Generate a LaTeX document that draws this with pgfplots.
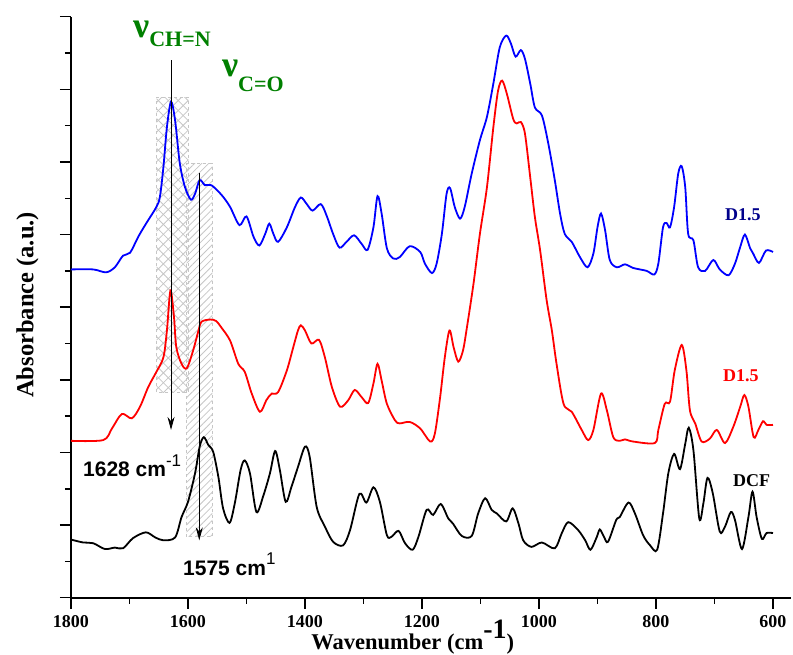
\documentclass[border=0pt]{standalone}
\usepackage{fontspec}
\setmainfont{Liberation Serif}
\newfontfamily\sansfont{Liberation Sans}
\usepackage{pgfplots}
\pgfplotsset{compat=1.18}
\usetikzlibrary{patterns,patterns.meta,arrows.meta}
\definecolor{navyblue}{RGB}{0,0,140}
\definecolor{labgreen}{RGB}{0,128,0}
\begin{document}
\begin{tikzpicture}
\useasboundingbox (-71pt,-57.3pt) rectangle (722pt,597.7pt);
\begin{axis}[
  at={(0,0)}, anchor=south west,
  scale only axis, width=719.55pt, height=581pt,
  x dir=reverse, xmin=570, xmax=1800, ymin=0, ymax=8,
  axis x line=bottom, axis y line=left,
  axis line style={-, line width=1.8pt},
  tick align=outside,
  major tick length=11pt, minor tick length=6pt,
  every tick/.style={black, line width=1.5pt},
  xtick={600,800,...,1800}, minor xtick={700,900,...,1700},
  ytick={0,1,...,8}, minor ytick={0.5,1.5,...,7.5},
  yticklabels={},
  /pgf/number format/assume math mode=true,
  /pgf/number format/set thousands separator={},
  xticklabel style={font=\fontsize{18}{18}\selectfont\bfseries, yshift=-3pt},
  xlabel={Wavenumber (cm\raisebox{11pt}{\fontsize{28}{28}\selectfont -1})},
  xlabel style={font=\fontsize{22.5}{22.5}\selectfont\bfseries, at={(axis description cs:0.475,0)}, anchor=base, yshift=-51.5pt},
  ylabel={Absorbance (a.u.)},
  ylabel style={font=\fontsize{24.5}{24.5}\selectfont\bfseries, at={([xshift=-37.7pt]axis description cs:0,0.504)}, anchor=base},
  clip=false,
]
% hatched regions
\fill[pattern={Lines[angle=45,distance=7pt,line width=0.8pt]}, pattern color=gray!45] (axis cs:1653.5,2.83) rectangle (axis cs:1599.5,6.89);
\fill[pattern={Lines[angle=-45,distance=7pt,line width=0.8pt]}, pattern color=gray!45] (axis cs:1653.5,2.83) rectangle (axis cs:1599.5,6.89);
\draw[gray!45, dashed, line width=1pt] (axis cs:1653.5,2.83) rectangle (axis cs:1599.5,6.89);
\fill[pattern={Lines[angle=45,distance=5pt,line width=0.8pt]}, pattern color=gray!45] (axis cs:1602.2,0.84) rectangle (axis cs:1558.5,5.98);
\draw[gray!45, dashed, line width=1pt] (axis cs:1602.2,0.84) rectangle (axis cs:1558.5,5.98);

% DCF (black)
\addplot[black, line width=1.8pt, smooth] coordinates {
(1800,0.80)(1779,0.76)(1762,0.75)(1742,0.67)(1725,0.69)(1711,0.68)(1694,0.82)(1672,0.90)(1656,0.83)(1642,0.79)(1622,0.83)(1611,1.11)(1600,1.32)(1588,1.71)(1580,2.08)(1573,2.21)(1565,2.10)(1557,2.01)(1548,1.66)(1540,1.23)(1529,1.03)(1520,1.30)(1510,1.76)(1503,1.89)(1494,1.71)(1483,1.18)(1471,1.41)(1460,1.71)(1451,2.02)(1443,1.76)(1433,1.32)(1423,1.53)(1412,1.80)(1400,2.08)(1392,1.94)(1380,1.25)(1366,0.98)(1352,0.77)(1335,0.72)(1323,0.93)(1307,1.43)(1295,1.31)(1283,1.52)(1272,1.32)(1260,0.86)(1252,0.84)(1240,0.92)(1229,0.75)(1216,0.66)(1206,0.84)(1192,1.21)(1181,1.14)(1168,1.29)(1155,1.09)(1147,1.02)(1132,0.85)(1115,0.85)(1104,1.16)(1092,1.37)(1081,1.21)(1072,1.16)(1056,1.05)(1045,1.23)(1035,1.02)(1027,0.79)(1013,0.70)(995,0.76)(973,0.68)(961,0.89)(950,1.04)(933,0.93)(921,0.79)(912,0.66)(901,0.84)(896,0.94)(889,0.84)(882,0.77)(868,1.07)(862,1.11)(847,1.31)(836,1.16)(822,0.86)(810,0.72)(798,0.66)(788,1.16)(779,1.71)(769,1.98)(759,1.77)(750,2.12)(744,2.34)(736,2.03)(726,1.09)(719,1.30)(712,1.65)(703,1.44)(691,0.91)(682,0.98)(672,1.18)(665,1.07)(653,0.67)(642,1.11)(635,1.46)(628,1.11)(619,0.81)(611,0.89)(600,0.89)
};
% D1.5 (red)
\addplot[red, line width=1.8pt, smooth] coordinates {
(1800,2.16)(1745,2.17)(1730,2.33)(1713,2.53)(1696,2.47)(1682,2.63)(1668,2.90)(1654,3.11)(1642,3.31)(1636,3.68)(1630,4.23)(1624,3.87)(1620,3.45)(1611,3.22)(1602,3.16)(1591,3.41)(1582,3.68)(1577,3.80)(1562,3.83)(1552,3.81)(1542,3.71)(1528,3.54)(1514,3.22)(1503,3.11)(1491,2.81)(1477,2.56)(1466,2.72)(1457,2.81)(1446,2.83)(1431,3.13)(1420,3.45)(1412,3.68)(1407,3.75)(1400,3.68)(1389,3.50)(1376,3.55)(1366,3.31)(1354,2.90)(1340,2.63)(1326,2.72)(1315,2.86)(1303,2.76)(1292,2.68)(1283,2.95)(1276,3.22)(1269,2.99)(1260,2.67)(1246,2.44)(1238,2.40)(1221,2.42)(1203,2.33)(1186,2.15)(1178,2.26)(1169,2.76)(1161,3.31)(1153,3.68)(1146,3.45)(1138,3.25)(1130,3.40)(1124,3.68)(1112,4.32)(1101,5.01)(1089,5.65)(1078,6.48)(1070,6.98)(1063,7.12)(1055,6.94)(1044,6.59)(1038,6.53)(1031,6.55)(1024,6.39)(1015,5.79)(1007,5.24)(998,4.78)(987,4.10)(978,3.68)(970,3.22)(958,2.67)(944,2.56)(927,2.31)(916,2.17)(907,2.31)(894,2.81)(884,2.58)(873,2.21)(862,2.16)(853,2.18)(839,2.15)(802,2.13)(796,2.31)(785,2.67)(776,2.70)(768,3.13)(756,3.48)(748,3.13)(742,2.58)(733,2.40)(722,2.15)(708,2.19)(696,2.31)(682,2.13)(668,2.35)(656,2.63)(649,2.79)(642,2.63)(633,2.21)(625,2.31)(617,2.43)(611,2.38)(600,2.38)
};
% D1.5 (blue)
\addplot[blue, line width=1.8pt, smooth] coordinates {
(1800,4.52)(1762,4.52)(1740,4.48)(1725,4.55)(1711,4.71)(1699,4.75)(1685,4.97)(1671,5.16)(1654,5.38)(1648,5.52)(1642,5.93)(1636,6.48)(1629,6.83)(1622,6.57)(1614,5.98)(1605,5.65)(1595,5.48)(1588,5.56)(1580,5.75)(1571,5.68)(1560,5.68)(1542,5.54)(1528,5.38)(1512,5.13)(1500,5.25)(1488,4.97)(1478,4.85)(1468,5.01)(1461,5.15)(1454,5.01)(1446,4.90)(1431,5.10)(1417,5.38)(1407,5.51)(1397,5.42)(1387,5.33)(1373,5.42)(1363,5.26)(1352,5.01)(1341,4.82)(1329,4.90)(1316,4.99)(1303,4.87)(1293,4.79)(1283,5.10)(1276,5.53)(1269,5.29)(1260,4.81)(1249,4.67)(1238,4.69)(1221,4.84)(1203,4.76)(1195,4.60)(1183,4.47)(1175,4.60)(1166,5.01)(1158,5.56)(1152,5.64)(1144,5.38)(1135,5.22)(1127,5.38)(1115,5.84)(1101,6.30)(1089,6.62)(1078,7.08)(1067,7.58)(1056,7.74)(1048,7.63)(1040,7.45)(1031,7.54)(1024,7.42)(1015,7.08)(1007,6.75)(995,6.64)(984,6.25)(973,5.75)(964,5.29)(956,5.01)(944,4.90)(930,4.69)(917,4.55)(907,4.74)(900,5.10)(894,5.29)(887,5.06)(879,4.65)(867,4.55)(853,4.59)(839,4.54)(816,4.50)(803,4.45)(796,4.60)(788,5.10)(782,5.16)(776,5.10)(769,5.38)(762,5.84)(756,5.94)(750,5.65)(745,5.01)(736,4.92)(728,4.55)(716,4.50)(702,4.65)(691,4.52)(676,4.44)(665,4.60)(656,4.83)(648,5.00)(639,4.81)(634,4.74)(624,4.61)(612,4.78)(600,4.76)
};

% arrows
\draw[-{Stealth[length=13pt,width=7pt]}, line width=0.8pt, black] (axis cs:1629,7.40) -- (axis cs:1629,2.31);
\draw[-{Stealth[length=13pt,width=7pt]}, line width=0.8pt, black] (axis cs:1580.7,5.85) -- (axis cs:1580.7,0.79);

% labels
\node[anchor=base west, inner sep=0pt, text=labgreen, font=\bfseries] at (axis cs:1694,7.71) {\fontsize{36}{36}\selectfont ν\fontsize{22}{22}\selectfont\raisebox{-8.5pt}{CH=N}};
\node[anchor=base west, inner sep=0pt, text=labgreen, font=\bfseries] at (axis cs:1542,7.17) {\fontsize{36}{36}\selectfont ν\fontsize{22}{22}\selectfont\raisebox{-15pt}{C=O}};
\node[anchor=base west, inner sep=0pt, font=\sansfont\bfseries\fontsize{21}{21}\selectfont] at (axis cs:1779.5,1.67) {1628 cm\raisebox{10pt}{\mdseries\fontsize{17}{17}\selectfont -1}};
\node[anchor=base west, inner sep=0pt, font=\sansfont\bfseries\fontsize{21}{21}\selectfont] at (axis cs:1608.5,0.31) {1575 cm\raisebox{11pt}{\mdseries\fontsize{17}{17}\selectfont 1}};
\node[anchor=base west, inner sep=0pt, text=navyblue, font=\bfseries\fontsize{18}{18}\selectfont] at (axis cs:682,5.20) {D1.5};
\node[anchor=base west, inner sep=0pt, text=red, font=\bfseries\fontsize{18}{18}\selectfont] at (axis cs:685.5,2.97) {D1.5};
\node[anchor=base west, inner sep=0pt, font=\bfseries\fontsize{18}{18}\selectfont] at (axis cs:668.4,1.53) {DCF};
\end{axis}
\end{tikzpicture}
\end{document}
